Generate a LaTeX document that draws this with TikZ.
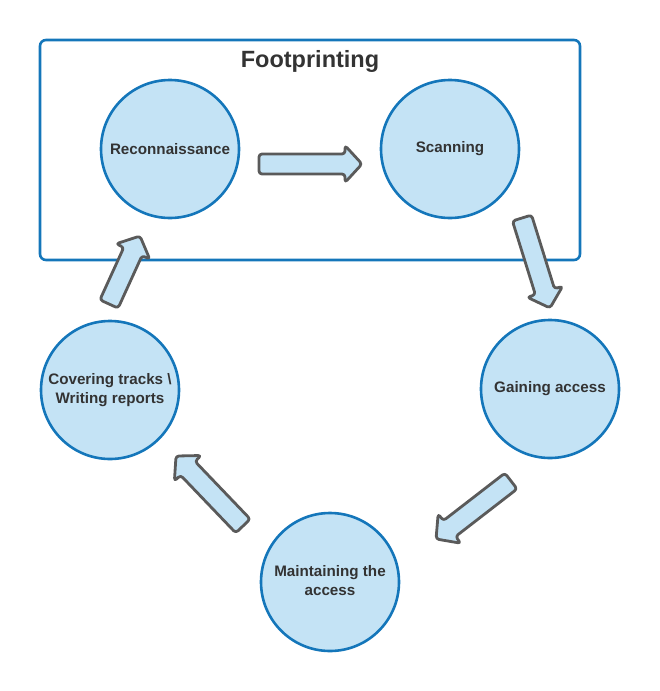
\documentclass[tikz,border=0pt]{standalone}
\usepackage{fontspec}
\setmainfont{Liberation Sans}
\usetikzlibrary{calc}

\definecolor{phasefill}{RGB}{196,227,245}
\definecolor{phaseline}{RGB}{20,118,186}
\definecolor{arrowline}{RGB}{90,90,90}
\definecolor{labeltext}{RGB}{51,51,51}

\tikzset{
  phase/.style={circle, draw=phaseline, fill=phasefill, line width=2.6pt,
    minimum size=138pt, inner sep=0pt, align=center, text=labeltext,
    font=\fontsize{15.2}{19}\selectfont\bfseries},
  arrowbody/.style={draw=arrowline, fill=phasefill, line width=2.8pt,
    rounded corners=3pt, line join=round},
  groupbox/.style={draw=phaseline, line width=2.6pt, rounded corners=6pt}
}

% two centred lines, raised a little
\newcommand{\twolines}[2]{\raisebox{2pt}{\begin{tabular}{@{}c@{}}#1\\#2\end{tabular}}}

% block arrow from #1 to #2 (shaft 20, head 37 wide, 17 long)
\newcommand{\blockarrow}[2]{%
  \draw[arrowbody] let \p1=($(#2)-(#1)$), \n1={atan2(\y1,\x1)}, \n2={veclen(\x1,\y1)} in
    {[shift={(#1)}, rotate=\n1]
     (0pt,-10pt) -- (\n2-17pt,-10pt) -- (\n2-17pt,-18.5pt) -- (\n2,0pt)
     -- (\n2-17pt,18.5pt) -- (\n2-17pt,10pt) -- (0pt,10pt) -- cycle};
}

\begin{document}
\begin{tikzpicture}[x=1pt,y=-1pt]
\useasboundingbox (0,0) rectangle (660,691);

%Shape: Rectangle (footprinting group)
\draw[groupbox] (40,40) rectangle (580,260);
% Text Node
\node[text=labeltext, font=\fontsize{23.5}{28}\selectfont\bfseries] (title) at (310,61) {Footprinting};

%Shape: Circles (phases)
\node[phase] (recon) at (170,149) {Reconnaissance};
\node[phase] (scan) at (450,149) {Scanning};
\node[phase] (gain) at (550,389) {Gaining access};
\node[phase] (maint) at (330,582) {\twolines{Maintaining the}{access}};
\node[phase] (cover) at (110,390) {\twolines{Covering tracks \textbackslash}{Writing reports}};

%Arrow ends
\coordinate (a1s) at (259,164);
\coordinate (a1e) at (362,164);
\coordinate (a2s) at (522,218);
\coordinate (a2e) at (550,308);
\coordinate (a3s) at (511,481);
\coordinate (a3e) at (436,539);
\coordinate (a4s) at (243,526);
\coordinate (a4e) at (176,456);
\coordinate (a5s) at (109,304);
\coordinate (a5e) at (140,236);

%Block Arrows
\blockarrow{a1s}{a1e}
\blockarrow{a2s}{a2e}
\blockarrow{a3s}{a3e}
\blockarrow{a4s}{a4e}
\blockarrow{a5s}{a5e}

\end{tikzpicture}
\end{document}
